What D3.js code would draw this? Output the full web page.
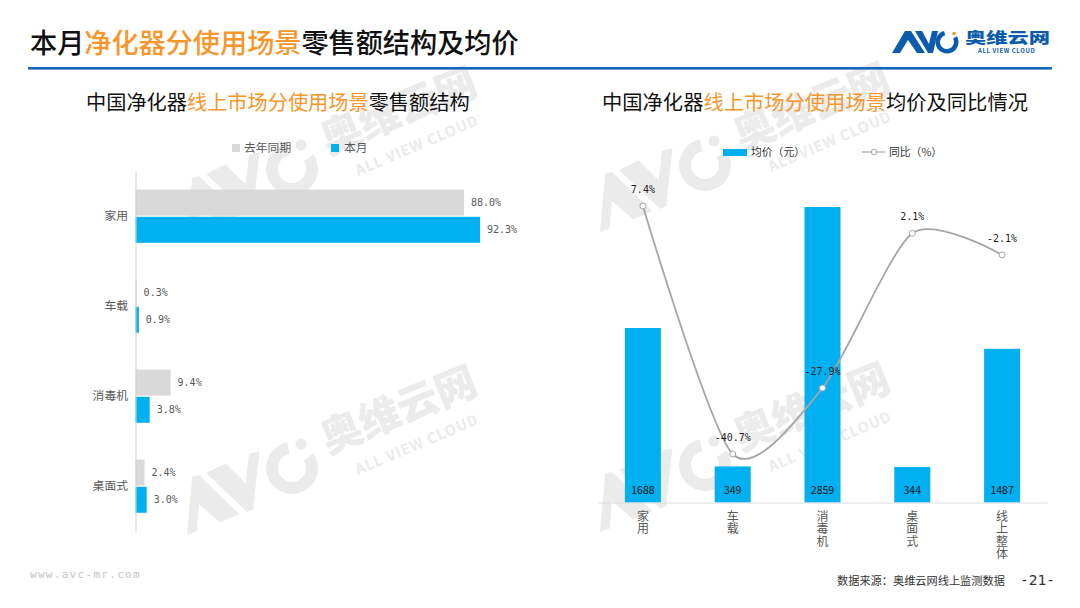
<!DOCTYPE html>
<html>
<head>
<meta charset="utf-8">
<script src="https://cdn.jsdelivr.net/npm/d3@7"></script>
<style>
  html, body { margin: 0; padding: 0; background: #fff; }
  svg { display: block; }
  text { font-family: "Noto Sans CJK SC", "Noto Sans", sans-serif; }
  .mono { font-family: "DejaVu Sans Mono", monospace; }
</style>
</head>
<body>
<div id="chart"></div>
<script>
// left chart data (%)
var shareCategories = ["家用", "车载", "消毒机", "桌面式"];
var shareLastYear = [88.0, 0.3, 9.4, 2.4];
var shareThisMonth = [92.3, 0.9, 3.8, 3.0];

// right chart data
var priceCategories = ["家用", "车载", "消毒机", "桌面式", "线上整体"];
var priceValues = [1688, 349, 2859, 344, 1487];
var yoyValues = [7.4, -40.7, -27.9, 2.1, -2.1];

var orange = "#f7962b", blue = "#00b0f0", grey = "#d9d9d9", brand = "#0b5cad", wm = "#ebebeb";

var svg = d3.select("#chart").append("svg").attr("width", 1080).attr("height", 608);

// watermarks first so everything else sits on top
[[187, 535], [187, 236], [600, 532], [600, 232]].forEach(function(p) {
    var g = svg.append("g").attr("transform", "translate(" + p[0] + "," + p[1] + ")").attr("fill", wm);
    g.append("path").attr("d", "M0,0L9.6,-3.4L12,-31L32.8,-12.8L52.4,-20.7L12,-60L5.2,-58.6Z");
    g.append("path").attr("d", "M19,-62L38.6,-71.4L58.6,-51.7L62,-81L72.4,-83.8L66.2,-25.9L60.3,-23Z");
    g.append("path").attr("transform", "translate(105,-67)")
        .attr("d", d3.arc()({innerRadius: 14, outerRadius: 26, startAngle: 56 * Math.PI / 180, endAngle: 349 * Math.PI / 180}));
    g.append("circle").attr("cx", 114).attr("cy", -91).attr("r", 5.5);
    g.append("text").attr("transform", "translate(141,-81) rotate(-22)")
        .attr("font-size", 41).attr("font-weight", 900).text("奥维云网");
    g.append("text").attr("transform", "translate(171,-60) rotate(-23)")
        .attr("font-size", 14.5).attr("font-weight", 700).attr("letter-spacing", 1).text("ALL VIEW CLOUD");
});

// header
function mixedText(x, y, size, weight, parts) {
    var t = svg.append("text").attr("x", x).attr("y", y).attr("font-size", size).attr("font-weight", weight);
    parts.forEach(function(p) {
        t.append("tspan").attr("fill", p[1] ? orange : "#111").text(p[0]);
    });
    return t;
}
mixedText(30, 53, 27.15, 500, [["本月"], ["净化器分使用场景", 1], ["零售额结构及均价"]]);
svg.append("rect").attr("x", 28).attr("y", 67).attr("width", 1024).attr("height", 2.6).attr("fill", "#1565b8");
mixedText(86, 110, 20.2, 400, [["中国净化器"], ["线上市场分使用场景", 1], ["零售额结构"]]);
mixedText(602, 110, 20.3, 400, [["中国净化器"], ["线上市场分使用场景", 1], ["均价及同比情况"]]);

// logo
var logo = svg.append("g").attr("fill", brand);
logo.append("path").attr("d", "M892,53L905,31L911,31L925,53L917,53L908,40L900,53Z");
logo.append("path").attr("d", "M915,31L922,31L929,44L932,31L938,31L933,53L928,53Z");
logo.append("path").attr("transform", "translate(947,42)")
    .attr("d", d3.arc()({innerRadius: 7, outerRadius: 11.5, startAngle: 60 * Math.PI / 180, endAngle: 345 * Math.PI / 180}));
logo.append("circle").attr("cx", 954).attr("cy", 33.5).attr("r", 1.8).attr("fill", orange);
logo.append("text").attr("x", 965).attr("y", 43).attr("font-size", 15).attr("font-weight", 900)
    .attr("textLength", 85).attr("lengthAdjust", "spacingAndGlyphs").text("奥维云网");
logo.append("text").attr("x", 978).attr("y", 53).attr("font-size", 6).attr("font-weight", 700)
    .attr("letter-spacing", 0.6).text("ALL VIEW CLOUD");

// ---- left chart: horizontal bars ----
var x1 = d3.scaleLinear().domain([0, 92.3]).range([135.5, 480]);
var y1 = d3.scaleBand().domain(shareCategories).range([171, 531]);
var barH = 26;

var seriesLeft = [
    {name: "去年同期", color: grey, values: shareLastYear, offset: -barH - 0.4},
    {name: "本月", color: blue, values: shareThisMonth, offset: 0.8}
];
seriesLeft.forEach(function(s) {
    var rows = shareCategories.map(function(c, i) { return {c: c, v: s.values[i]}; });
    svg.selectAll(null).data(rows).enter().append("rect")
        .attr("x", x1(0))
        .attr("y", function(d) { return y1(d.c) + y1.bandwidth() / 2 + s.offset; })
        .attr("width", function(d) { return x1(d.v) - x1(0); })
        .attr("height", barH)
        .attr("fill", s.color);
    svg.selectAll(null).data(rows).enter().append("text")
        .attr("class", "mono")
        .attr("x", function(d) { return x1(d.v) + 7; })
        .attr("y", function(d) { return y1(d.c) + y1.bandwidth() / 2 + s.offset + barH / 2 + 3.5; })
        .attr("font-size", 10).attr("fill", "#595959")
        .text(function(d) { return d.v.toFixed(1) + "%"; });
});

var axisLeft = svg.append("g").attr("transform", "translate(135.5,0)")
    .call(d3.axisLeft(y1).tickSize(0).tickPadding(7.5));
axisLeft.select(".domain").attr("stroke", "#d0d0d0");
axisLeft.selectAll("text").attr("font-size", 11.8).attr("fill", "#595959")
    .style("font-family", '"Noto Sans CJK SC"');

// left legend
svg.append("rect").attr("x", 232).attr("y", 144).attr("width", 8).attr("height", 8).attr("fill", grey);
svg.append("text").attr("x", 244).attr("y", 152).attr("font-size", 11.8).attr("fill", "#595959").text("去年同期");
svg.append("rect").attr("x", 331).attr("y", 144).attr("width", 8).attr("height", 8).attr("fill", blue);
svg.append("text").attr("x", 344).attr("y", 152).attr("font-size", 11.8).attr("fill", "#595959").text("本月");

// ---- right chart: bars + smoothed line ----
var x2 = d3.scaleBand().domain(priceCategories).range([598, 1047]);
var y2 = d3.scaleLinear().domain([0, 2859]).range([502.5, 207]);
var y3 = d3.scaleLinear().domain([-40.7, 7.4]).range([454, 206]);
var barW = 36;

var rowsRight = priceCategories.map(function(c, i) { return {c: c, price: priceValues[i], yoy: yoyValues[i]}; });

svg.selectAll(null).data(rowsRight).enter().append("rect")
    .attr("x", function(d) { return x2(d.c) + x2.bandwidth() / 2 - barW / 2; })
    .attr("y", function(d) { return y2(d.price); })
    .attr("width", barW)
    .attr("height", function(d) { return y2(0) - y2(d.price); })
    .attr("fill", blue);

svg.selectAll(null).data(rowsRight).enter().append("text")
    .attr("x", function(d) { return x2(d.c) + x2.bandwidth() / 2; })
    .attr("y", 494)
    .attr("text-anchor", "middle").attr("font-size", 10.5).attr("fill", "#111")
    .text(function(d) { return d.price; });

var axisBottom = svg.append("g").attr("transform", "translate(0,502.5)")
    .call(d3.axisBottom(x2).tickSize(0));
axisBottom.select(".domain").attr("stroke", "#dcdcdc");

// tick labels run top to bottom, one text per category
axisBottom.selectAll(".tick text")
    .attr("font-size", 12).attr("fill", "#595959")
    .attr("text-anchor", "start")
    .style("font-family", '"Noto Sans CJK SC"')
    .style("writing-mode", "vertical-rl")
    .style("letter-spacing", "0.3px")
    .attr("x", 0).attr("y", 8).attr("dy", null);

var yoyLine = d3.line()
    .x(function(d) { return x2(d.c) + x2.bandwidth() / 2; })
    .y(function(d) { return y3(d.yoy); })
    .curve(d3.curveCardinal.tension(0.25));

svg.append("path").datum(rowsRight)
    .attr("d", yoyLine)
    .attr("fill", "none").attr("stroke", "#a6a6a6").attr("stroke-width", 1.8);

svg.selectAll(null).data(rowsRight).enter().append("circle")
    .attr("cx", function(d) { return x2(d.c) + x2.bandwidth() / 2; })
    .attr("cy", function(d) { return y3(d.yoy); })
    .attr("r", 3).attr("fill", "#fff").attr("stroke", "#a6a6a6").attr("stroke-width", 1);

svg.selectAll(null).data(rowsRight).enter().append("text")
    .attr("class", "mono")
    .attr("x", function(d) { return x2(d.c) + x2.bandwidth() / 2; })
    .attr("y", function(d) { return y3(d.yoy) - 13; })
    .attr("text-anchor", "middle").attr("font-size", 10).attr("fill", "#222")
    .text(function(d) { return d.yoy.toFixed(1) + "%"; });

// right legend
svg.append("rect").attr("x", 723).attr("y", 149).attr("width", 24).attr("height", 7).attr("fill", blue);
svg.append("text").attr("x", 751).attr("y", 156).attr("font-size", 10.8).attr("fill", "#333").text("均价（元）");
svg.append("line").attr("x1", 862).attr("x2", 885).attr("y1", 152).attr("y2", 152).attr("stroke", "#a6a6a6").attr("stroke-width", 1.2);
svg.append("circle").attr("cx", 874).attr("cy", 152).attr("r", 2.8).attr("fill", "#fff").attr("stroke", "#a6a6a6");
svg.append("text").attr("x", 889).attr("y", 156).attr("font-size", 10.8).attr("fill", "#333").text("同比（%）");

// footer
svg.append("text").attr("class", "mono").attr("x", 30).attr("y", 578).attr("font-size", 11)
    .attr("letter-spacing", 1.3).attr("fill", "#c4c4c4").text("www.avc-mr.com");
svg.append("text").attr("x", 837).attr("y", 585).attr("font-size", 11.2).attr("fill", "#333").text("数据来源：奥维云网线上监测数据");
svg.append("text").attr("class", "mono").attr("x", 1020).attr("y", 585).attr("font-size", 14.5).attr("fill", "#333").text("-21-");
</script>
</body>
</html>
